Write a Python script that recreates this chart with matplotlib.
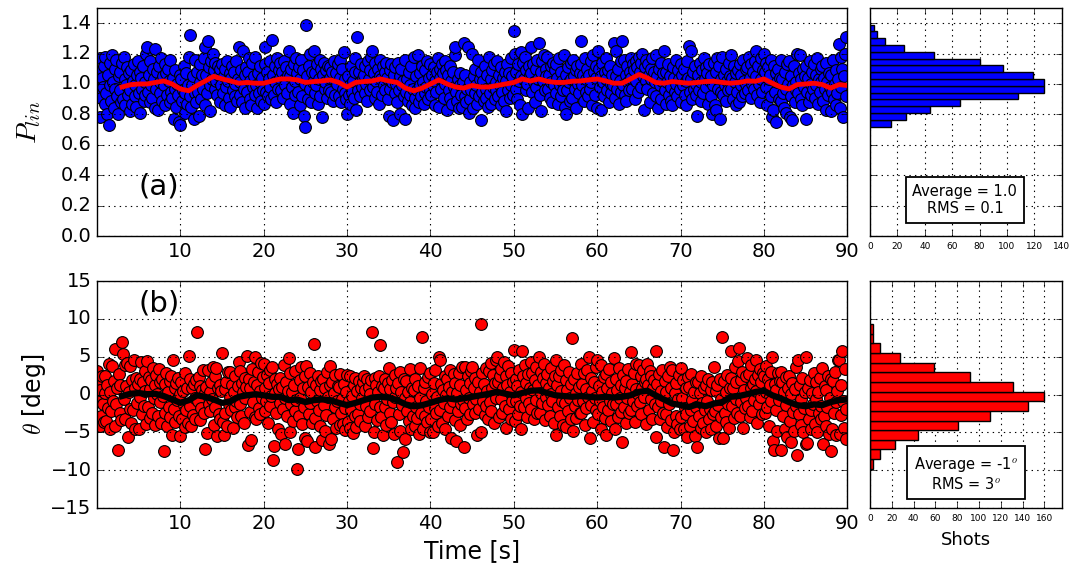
import numpy as np
import matplotlib
matplotlib.use('Agg')
import matplotlib.pyplot as plt
from matplotlib.ticker import FormatStrFormatter

plt.style.use('classic')

rate = 10.0  # shots per second

# linear polarisation per shot, one row per second
p_lin = [
    1.08, 0.95, 1.02, 0.78, 1.17, 0.91, 1.04, 0.98, 1.12, 0.87,
    1.18, 0.94, 0.80, 1.06, 0.73, 1.14, 0.99, 0.89, 1.19, 1.01,
    0.84, 1.10, 0.97, 1.16, 0.92, 0.80, 1.05, 1.08, 0.96, 0.88,
    1.14, 0.90, 1.18, 1.03, 0.86, 0.99, 1.11, 0.93, 1.07, 0.82,
    0.96, 1.09, 0.87, 1.02, 1.13, 0.92, 0.99, 0.85, 1.06, 1.15,
    0.94, 1.08, 0.81, 1.04, 0.97, 1.12, 0.89, 1.01, 0.93, 1.20,
    1.24, 0.95, 1.06, 0.88, 1.15, 0.99, 0.91, 1.10, 1.03, 0.84,
    1.23, 0.97, 1.08, 0.83, 1.12, 0.94, 1.01, 1.17, 0.89, 1.05,
    0.99, 1.13, 0.86, 1.07, 0.93, 1.10, 1.02, 0.88, 1.16, 0.95,
    0.91, 1.04, 0.77, 0.97, 1.09, 0.85, 1.00, 0.93, 0.75, 1.06,
    0.73, 1.03, 0.89, 0.96, 1.12, 0.81, 0.94, 1.07, 0.87, 0.99,
    1.18, 0.92, 1.32, 0.85, 0.99, 1.05, 0.77, 0.94, 1.16, 0.88,
    1.08, 0.95, 0.79, 1.13, 1.01, 0.90, 1.06, 0.97, 1.17, 0.86,
    1.24, 1.06, 0.94, 1.28, 1.11, 0.99, 0.82, 1.15, 1.03, 1.20,
    1.09, 0.97, 1.14, 1.02, 0.93, 1.12, 1.06, 0.88, 1.10, 0.99,
    1.13, 0.94, 1.05, 0.86, 1.10, 0.98, 1.15, 1.02, 0.91, 1.07,
    0.85, 1.04, 1.12, 0.96, 1.08, 0.92, 1.00, 1.15, 0.89, 1.03,
    1.24, 1.01, 0.93, 1.09, 0.88, 1.22, 0.97, 1.06, 0.84, 1.11,
    0.95, 1.08, 1.17, 0.90, 1.02, 0.86, 1.14, 0.98, 1.05, 0.93,
    1.18, 0.99, 0.84, 1.07, 0.94, 1.12, 1.01, 0.89, 1.04, 0.96,
    0.87, 1.13, 1.24, 0.95, 1.08, 0.92, 1.03, 1.15, 0.98, 0.90,
    1.29, 1.06, 0.93, 1.12, 1.01, 0.88, 1.17, 0.97, 1.09, 1.04,
    1.14, 0.96, 1.08, 0.91, 1.15, 1.03, 0.99, 1.11, 0.94, 1.06,
    1.22, 0.87, 1.05, 1.10, 0.98, 0.81, 1.13, 1.02, 0.93, 1.17,
    1.07, 0.95, 1.11, 0.86, 1.03, 1.16, 0.92, 1.09, 0.79, 1.00,
    0.72, 1.39, 1.05, 0.90, 1.12, 0.97, 1.20, 0.88, 1.08, 1.01,
    1.22, 0.94, 1.07, 0.99, 1.13, 0.87, 1.03, 1.16, 0.92, 1.10,
    0.78, 1.06, 1.14, 0.97, 1.01, 1.09, 0.91, 1.12, 0.96, 1.04,
    1.11, 0.95, 1.08, 0.89, 1.15, 1.02, 0.93, 1.07, 1.00, 1.13,
    0.92, 1.16, 1.04, 0.88, 1.10, 0.97, 1.21, 0.94, 1.03, 0.90,
    0.80, 1.05, 0.93, 0.99, 0.87, 1.12, 0.95, 1.02, 0.91, 1.08,
    1.17, 0.83, 1.31, 0.96, 1.08, 1.01, 0.92, 1.13, 0.98, 1.04,
    1.06, 0.94, 1.12, 1.00, 0.89, 1.15, 1.03, 0.96, 1.09, 1.18,
    1.22, 0.98, 1.07, 0.91, 1.14, 1.02, 0.95, 1.10, 0.87, 1.05,
    1.16, 1.03, 0.93, 1.12, 0.99, 1.08, 0.96, 1.14, 1.04, 0.90,
    0.79, 1.09, 0.97, 1.13, 1.01, 0.76, 1.06, 0.94, 1.11, 1.00,
    0.88, 1.14, 0.96, 1.05, 0.80, 1.10, 0.99, 1.02, 0.92, 1.16,
    0.77, 0.95, 1.03, 0.89, 1.08, 0.93, 0.99, 1.12, 0.86, 0.97,
    1.18, 0.91, 0.84, 1.05, 0.96, 1.19, 0.88, 0.99, 1.07, 0.92,
    1.12, 1.01, 0.87, 1.09, 0.94, 0.98, 1.15, 0.90, 1.04, 0.96,
    1.13, 0.93, 1.06, 0.99, 1.11, 0.86, 1.02, 0.95, 1.08, 1.17,
    0.85, 1.10, 1.04, 0.97, 1.13, 1.07, 0.91, 1.15, 1.00, 1.09,
    0.83, 1.06, 0.96, 1.12, 0.91, 1.02, 0.87, 1.08, 0.98, 1.19,
    1.24, 0.95, 0.89, 1.03, 0.84, 0.99, 1.07, 0.93, 0.85, 1.01,
    1.27, 0.92, 1.06, 0.88, 0.97, 1.24, 0.81, 1.01, 0.90, 0.96,
    1.20, 0.84, 1.05, 0.94, 1.10, 0.99, 0.87, 1.16, 0.92, 1.03,
    0.76, 1.08, 0.95, 1.02, 0.89, 1.12, 0.97, 0.91, 1.06, 0.85,
    1.18, 0.94, 1.03, 0.87, 1.09, 0.98, 1.13, 0.90, 1.01, 0.96,
    1.15, 0.92, 1.06, 0.99, 0.86, 1.11, 0.95, 1.04, 0.89, 1.08,
    0.82, 1.02, 1.13, 0.96, 1.07, 0.91, 1.17, 0.99, 1.05, 0.93,
    1.35, 1.20, 0.97, 1.08, 0.90, 1.13, 1.02, 0.86, 1.05, 1.21,
    0.80, 1.14, 1.03, 1.18, 0.96, 1.09, 1.00, 0.84, 1.12, 1.06,
    1.07, 1.24, 0.95, 1.13, 1.01, 0.88, 1.10, 0.98, 1.16, 1.03,
    1.27, 0.93, 1.08, 0.82, 1.15, 1.02, 1.19, 0.96, 1.10, 1.05,
    1.18, 0.97, 1.06, 0.91, 1.12, 1.01, 0.88, 1.14, 0.99, 1.09,
    1.13, 0.94, 1.04, 0.87, 1.17, 0.99, 1.08, 0.92, 1.02, 0.96,
    1.19, 0.85, 0.80, 1.06, 0.96, 1.11, 1.01, 0.89, 1.14, 1.03,
    0.91, 1.16, 1.05, 0.97, 1.09, 0.84, 1.12, 1.00, 0.94, 1.07,
    1.28, 1.13, 0.99, 1.06, 0.89, 1.17, 1.03, 0.95, 1.10, 0.92,
    1.06, 0.97, 1.15, 1.01, 0.86, 1.19, 1.08, 0.93, 1.12, 1.04,
    0.84, 1.22, 1.10, 0.98, 1.05, 0.83, 1.14, 1.01, 0.92, 1.08,
    1.17, 1.03, 0.96, 1.09, 0.88, 1.12, 1.00, 0.94, 1.06, 0.99,
    1.27, 0.91, 1.05, 1.22, 0.97, 1.10, 0.87, 1.02, 0.95, 1.15,
    1.28, 0.99, 1.16, 0.93, 1.06, 0.89, 1.12, 1.01, 0.96, 1.08,
    1.17, 1.04, 0.97, 1.13, 1.09, 0.90, 1.15, 1.02, 1.11, 0.95,
    1.18, 1.08, 1.14, 0.98, 1.20, 1.05, 0.83, 1.11, 1.02, 1.16,
    0.97, 1.13, 1.06, 0.88, 1.10, 1.03, 1.17, 0.94, 1.08, 1.01,
    1.19, 0.92, 1.05, 0.84, 1.10, 0.99, 1.14, 0.90, 1.02, 1.07,
    1.22, 0.96, 1.08, 0.87, 1.01, 1.13, 0.93, 1.05, 0.98, 0.89,
    0.86, 1.11, 1.04, 0.95, 1.16, 1.00, 0.92, 1.09, 1.03, 0.97,
    1.13, 0.88, 1.06, 0.99, 1.10, 0.93, 1.02, 0.86, 1.15, 1.04,
    1.25, 0.95, 1.22, 1.03, 0.90, 1.08, 0.97, 1.12, 1.00, 0.93,
    0.79, 1.06, 0.96, 1.14, 1.01, 0.89, 1.09, 0.94, 1.17, 1.03,
    1.11, 0.98, 1.07, 0.87, 1.13, 1.02, 0.92, 1.05, 0.80, 0.99,
    1.14, 0.86, 1.08, 0.83, 1.17, 0.97, 1.12, 0.77, 1.03, 0.95,
    1.18, 0.93, 1.06, 0.99, 1.10, 0.89, 1.02, 0.96, 1.14, 1.05,
    1.19, 0.97, 1.04, 0.90, 1.12, 1.01, 0.86, 1.07, 0.95, 1.09,
    0.88, 1.13, 0.99, 1.06, 0.92, 1.16, 1.02, 0.94, 1.10, 1.00,
    1.11, 0.96, 1.18, 1.04, 0.91, 1.13, 1.00, 1.08, 0.97, 1.15,
    1.22, 1.05, 0.93, 1.12, 1.00, 0.88, 1.17, 1.03, 0.95, 1.09,
    1.20, 1.08, 0.98, 1.14, 0.86, 1.11, 1.03, 1.06, 0.92, 1.16,
    0.78, 0.83, 1.12, 0.95, 1.07, 0.75, 1.01, 1.10, 0.90, 1.04,
    1.16, 0.89, 1.03, 0.94, 0.84, 1.08, 0.97, 0.81, 1.13, 1.00,
    1.15, 0.78, 0.92, 1.05, 0.76, 0.99, 1.12, 0.88, 0.96, 1.01,
    1.20, 0.94, 1.07, 1.19, 0.90, 1.03, 0.86, 1.10, 0.98, 1.05,
    0.77, 1.12, 0.95, 1.04, 0.88, 1.15, 1.00, 0.93, 1.08, 0.97,
    1.13, 0.91, 1.06, 0.99, 1.17, 0.87, 1.03, 0.95, 1.10, 1.01,
    1.12, 0.89, 1.04, 0.97, 1.14, 0.83, 1.01, 0.93, 1.07, 0.98,
    0.82, 1.06, 0.95, 1.16, 0.90, 1.00, 0.86, 1.09, 0.94, 1.03,
    1.26, 0.84, 1.18, 0.98, 1.10, 0.78, 1.05, 1.20, 0.92, 1.31,
]

# polarisation angle per shot [deg], one row per second
theta = [
    3.1, -0.8, 1.5, -4.2, 0.6, -2.9, 2.4, -1.3, -3.6, 0.2,
    2.4, -3.5, 1.2, -1.8, 4.1, -4.6, 0.3, -2.2, 3.8, -0.9,
    1.8, -4.1, 6.0, -1.2, 0.9, -7.3, 2.7, -2.5, 1.3, -3.4,
    7.0, 5.3, -0.6, 3.9, -3.3, 1.1, 4.2, -5.6, 0.4, -1.9,
    3.8, -3.8, 1.9, -2.0, 4.5, 0.8, -4.5, 2.2, -1.1, 1.4,
    -4.6, 2.0, -0.3, 4.3, -2.6, 1.6, -1.5, 3.1, 0.5, -3.9,
    4.4, -1.7, 2.3, -3.1, 0.7, 1.9, -2.4, 3.5, -0.5, 1.2,
    -4.0, 2.6, 0.1, -2.8, 3.4, -1.0, 1.7, -3.7, 2.1, -0.2,
    -7.5, 1.4, -2.5, 2.9, -4.2, 0.3, -1.6, 1.8, -3.0, 2.5,
    -5.3, 4.5, -1.9, 0.8, -3.6, 1.5, -0.7, 2.2, -2.9, 0.1,
    -5.5, 1.7, -3.2, 0.5, -1.4, -4.3, 2.9, -2.1, 0.9, -3.8,
    5.1, -1.5, 2.0, -4.1, 0.8, -2.7, 1.4, -0.4, -3.3, 1.9,
    8.2, -0.9, 2.3, -3.4, 1.1, -1.8, 0.6, 3.2, -2.5, 0.2,
    -7.2, 1.0, -5.1, 3.3, -1.3, 0.4, -2.2, 1.7, -0.6, 3.6,
    -4.0, 2.4, -1.7, 3.5, -5.5, 0.9, -2.6, 1.3, -3.3, 0.5,
    5.5, -3.6, -5.3, 0.7, -2.4, 1.6, -4.2, 3.0, -1.2, -0.3,
    3.0, -2.0, 1.3, -4.4, 0.4, -1.6, 2.5, -0.8, -3.0, 1.1,
    4.3, -1.2, 3.1, -2.9, 1.5, 0.3, -3.8, 2.2, -0.5, 1.0,
    5.1, -6.7, 2.0, -2.3, 0.9, -6.0, 3.4, -1.0, 1.7, -3.0,
    5.0, -3.2, 1.2, 3.0, -1.8, 0.5, -2.6, 4.2, -0.4, 2.3,
    4.0, -2.2, 0.8, -0.9, 2.6, -3.7, 1.5, -1.5, 3.3, -0.2,
    3.6, -8.6, -6.8, 0.2, 2.1, -2.5, 1.4, -4.6, 0.7, -1.1,
    2.2, -5.2, 1.0, -1.9, 3.9, -0.4, -6.6, 1.7, -2.8, 0.5,
    4.8, -5.0, 2.8, -1.3, 0.3, -3.5, 1.2, -2.2, 3.1, -0.7,
    -9.8, -7.2, -2.8, 1.9, -0.5, 3.7, -3.9, 0.8, -1.6, 2.4,
    -5.7, 3.8, -6.1, 1.0, -2.6, 2.9, -1.1, 0.4, -3.7, 1.6,
    6.7, -3.1, -7.0, 1.3, -0.9, 2.4, -2.0, 0.6, -4.2, 1.8,
    -6.0, 2.0, -1.4, -4.8, 0.9, -2.7, 3.0, -0.3, -6.6, 1.2,
    3.8, -5.9, 1.6, -3.2, 0.2, -1.7, 2.6, -4.4, -0.8, 1.1,
    1.0, -4.0, 2.7, -2.4, -0.6, -3.9, 1.4, -1.8, -4.7, 0.3,
    2.6, -3.6, -0.9, -4.4, 2.4, -2.0, -0.2, -5.1, 1.2, -2.8,
    2.2, -4.3, 0.5, -2.6, 1.8, -1.2, -3.5, 0.9, -0.4, 1.6,
    2.5, -4.2, 0.6, -1.5, 2.1, -3.0, 1.0, -2.2, 0.1, 1.9,
    8.3, -7.1, -5.0, 2.2, -1.2, 1.3, -3.4, 0.4, 2.5, -1.7,
    6.5, -3.0, 1.1, -5.4, 0.8, -1.6, 2.0, -4.0, -0.6, 1.5,
    3.5, -2.4, 0.7, -3.6, 1.9, -1.0, -5.2, 2.6, -0.3, 0.9,
    -8.9, 1.5, -2.6, 3.0, -4.8, 0.4, -1.4, -7.6, 2.0, -0.5,
    -5.9, 1.8, -2.2, 0.3, -3.5, 3.4, -1.0, -4.6, 0.8, -2.8,
    0.6, -4.2, 2.0, -1.7, -3.1, 1.1, -5.2, -0.5, 3.5, -2.5,
    7.6, -4.5, 0.9, -2.9, 1.7, -0.9, -3.6, 2.3, -1.6, -5.0,
    2.8, -3.2, 0.1, -4.9, 1.5, -1.8, 3.3, -2.4, -0.3, -4.1,
    4.9, 4.6, -2.0, 1.4, -3.7, 0.6, -1.1, 2.5, -4.6, 0.0,
    2.1, -2.8, 1.0, -1.6, 3.2, -5.7, 0.4, -0.9, 2.7, -3.4,
    1.5, -6.2, 0.2, -2.2, 2.8, -4.0, 1.2, -1.3, 3.6, -0.7,
    -7.0, 3.7, -1.8, 0.6, -3.2, 2.4, -0.4, 1.5, -2.6, 3.1,
    3.6, -1.3, 0.9, -2.4, 2.2, -0.6, -5.4, 1.6, -1.9, 0.3,
    9.3, -5.0, 2.9, -0.8, 1.4, -2.7, 3.5, -1.5, 0.5, -3.3,
    3.1, -1.0, 4.2, -2.2, 0.8, 2.6, -3.7, 1.5, -0.5, 4.6,
    5.0, 1.7, -3.0, 2.5, -0.6, 3.4, -2.4, 0.9, 4.3, -1.5,
    2.4, -4.4, 1.2, 3.8, -1.9, 0.4, -3.2, 2.9, -0.9, 1.6,
    5.9, -3.5, 2.0, -0.8, 1.1, -2.6, 3.2, -1.5, 0.3, -4.5,
    5.8, 2.4, -1.6, 3.9, -0.4, 1.5, -3.0, 2.7, -1.1, 0.8,
    4.3, -1.9, 2.8, 0.6, -3.3, 1.9, -0.7, 3.6, -2.4, 1.2,
    5.0, -2.5, 3.0, 0.2, -1.1, 2.2, 4.1, -3.4, 1.5, -0.3,
    2.7, -1.4, 0.9, -2.8, 3.5, 0.1, -0.9, 1.8, -3.7, 2.4,
    4.6, -5.3, 1.3, -1.7, 2.5, -2.9, 0.5, 3.2, -0.8, -4.0,
    3.9, -1.1, 1.9, -4.3, 0.6, -2.2, 3.0, -0.4, 1.4, -3.3,
    7.5, -4.8, 2.1, -1.5, 0.2, -3.1, 2.8, -0.7, 1.0, -2.4,
    4.0, -2.5, 1.4, -0.9, 2.9, -4.0, 0.7, -1.8, 3.3, -0.3,
    5.0, -5.7, 2.2, -1.4, 0.5, -3.6, 1.6, -0.5, 3.7, -2.0,
    4.6, -2.6, 1.1, -0.8, 3.9, -4.6, 0.4, -1.7, 2.3, -3.1,
    2.7, -5.4, 0.8, -2.0, 3.4, -0.9, 1.6, -3.5, 0.2, -1.3,
    4.8, -4.6, 2.0, -1.2, 0.6, -3.0, 3.5, -0.5, 1.3, -2.3,
    -6.3, 2.6, -1.6, 0.9, -3.8, 1.8, -0.4, 3.4, -2.5, 0.3,
    5.6, -2.1, 1.4, -0.8, 2.8, -3.6, 0.7, 4.0, -1.5, 0.1,
    3.9, -1.0, 2.5, -2.6, 0.9, 3.3, -0.3, 1.7, -3.9, 2.0,
    4.0, 1.2, -2.1, 3.1, -0.6, 2.4, -3.3, 0.8, 1.9, -1.3,
    5.7, -5.6, 1.4, -1.7, 2.7, -3.2, 0.5, -0.8, 3.3, -2.4,
    -6.9, 1.8, -2.6, 0.4, -4.3, 2.5, -1.2, 3.6, -3.4, 0.9,
    3.3, -7.3, -5.0, 0.2, -2.8, 1.5, -3.9, -0.6, 2.6, -4.6,
    3.5, -3.0, -0.5, 1.9, -4.5, -1.8, 0.8, -2.6, -5.6, 2.3,
    1.0, -4.2, -2.1, 2.7, -0.7, -3.5, 0.4, -5.5, -1.6, 1.6,
    -6.9, 1.6, -2.9, 0.2, -4.4, 2.4, -1.1, -3.7, 0.9, -2.0,
    1.2, -5.0, -0.9, 2.0, -3.3, -1.9, 0.6, -4.5, 1.7, -2.6,
    3.6, -2.2, 0.5, -4.1, 1.3, -1.4, -5.8, 2.1, -0.6, -3.0,
    7.6, -5.7, 1.8, -2.5, 0.3, -3.6, 2.6, -1.2, -4.4, 0.9,
    5.8, 2.2, -1.5, 0.8, -3.1, 3.7, -0.6, 1.6, -2.4, 4.4,
    6.2, -2.9, 1.9, -1.0, 3.0, -4.4, 0.6, -1.8, 2.4, -0.4,
    4.8, -1.5, 2.7, -3.0, 0.9, 3.9, -2.2, 1.4, -0.7, 2.1,
    4.5, 0.5, -3.7, 2.6, -1.2, 3.4, -0.3, 1.7, -2.6, 2.9,
    2.5, -2.5, 3.8, 0.3, -1.6, 2.1, -4.2, 1.2, 3.0, -0.8,
    5.0, -6.1, -7.3, 1.4, -2.0, 0.6, -4.8, 2.9, -0.7, 1.8,
    3.0, -7.3, 1.7, -2.8, 0.4, -4.5, 2.3, -1.4, -5.6, 0.8,
    2.4, -3.5, 0.1, -6.3, 1.5, -2.3, -4.8, 0.7, -1.5, 3.6,
    -8.0, 4.6, -2.6, 1.3, -4.0, -0.6, 2.2, -5.0, -1.8, 0.4,
    4.9, -6.5, -6.4, 0.8, -3.2, 1.9, -2.1, -4.6, 0.2, -1.2,
    2.9, -3.9, -0.6, 1.7, -4.9, 0.3, -2.4, 2.2, -1.5, -3.3,
    3.5, -6.5, -2.8, 1.1, -4.1, 0.6, -1.7, 2.4, -5.2, -0.4,
    2.0, -7.5, -4.5, 1.8, -2.5, 3.0, -1.0, -5.3, 0.5, 4.5,
    4.6, -5.2, 1.3, -2.7, 5.7, -0.8, -4.4, 3.4, -1.9, -5.9,
]

# running averages, one value per second from t = 3 s
p_avg = [
    0.98, 0.995, 1.0, 1.0, 1.01, 1.02, 1.0, 0.967, 0.955, 0.99,
    1.02, 1.05, 1.033, 1.02, 1.005, 1.01, 1.005, 1.005, 1.02, 1.033,
    1.033, 1.027, 1.01, 1.016, 1.02, 1.027, 1.01, 0.98, 1.01, 1.016,
    1.02, 1.033, 1.02, 1.01, 0.973, 0.955, 0.973, 1.0, 1.027, 1.0,
    0.98, 0.973, 0.99, 0.98, 0.98, 0.99, 1.0, 1.01, 1.033, 1.02,
    1.033, 1.018, 1.01, 1.01, 1.018, 1.02, 1.027, 1.033, 1.02, 1.005,
    1.005, 1.033, 1.062, 1.04, 1.01, 1.005, 1.016, 1.01, 1.005, 1.01,
    1.016, 1.018, 1.01, 1.005, 1.01, 1.02, 1.018, 1.033, 1.005, 0.98,
    0.967, 0.996, 1.0, 1.005, 0.996, 0.973, 0.996, 0.99,
]
theta_avg = [
    -0.2, 0.1, 0.2, 0.05, 0.1, -0.2, -0.65, -1.1, -0.75, -0.1,
    -0.3, -0.65, -1.1, -0.9, -0.3, -0.1, 0.05, -0.1, -0.3, -0.3,
    -0.75, -0.65, -1.0, -0.75, -0.65, -0.75, -1.1, -1.4, -1.1, -0.75,
    -0.4, -0.3, -0.4, -0.75, -1.3, -1.55, -1.4, -1.1, -0.75, -0.5,
    -0.65, -0.5, -0.3, -0.1, 0.1, 0.35, 0.1, -0.1, 0.2, 0.5,
    0.55, 0.2, -0.1, -0.2, -0.3, -0.2, -0.3, -0.4, -0.3, -0.4,
    -0.3, -0.1, 0.35, 0.5, -0.1, -0.65, -1.2, -1.4, -1.65, -1.3,
    -1.55, -1.2, -1.0, -0.3, -0.2, 0.05, 0.35, 0.5, -0.1, -0.5,
    -1.0, -1.4, -1.55, -1.3, -1.4, -1.0, -0.75, -0.65,
]

# histogram counts (shots per bin, from lowest bin upward)
p_counts = [15, 26, 44, 66, 108, 127, 127, 119, 97, 80, 47, 25, 11, 5, 3]
theta_counts = [3, 9, 23, 44, 81, 110, 145, 160, 131, 92, 59, 28, 9, 3, 3]

p_lin = np.array(p_lin)
theta = np.array(theta)
t = np.arange(len(p_lin)) / rate
t_avg = np.arange(3, 3 + len(p_avg))

p_edges = np.linspace(p_lin.min(), p_lin.max(), len(p_counts) + 1)
theta_edges = np.linspace(theta.min(), theta.max(), len(theta_counts) + 1)

fig = plt.figure(figsize=(10.78, 5.68), dpi=100, facecolor='white')

L, W = 0.090, 0.696
HL, HW = 0.807, 0.178
ax1 = fig.add_axes([L, 0.5845, W, 0.4015])
ax2 = fig.add_axes([L, 0.1056, W, 0.3996])
h1 = fig.add_axes([HL, 0.5845, HW, 0.4015])
h2 = fig.add_axes([HL, 0.1056, HW, 0.3996])

# --- (a) polarisation
ax1.scatter(t, p_lin, s=72, c='b', edgecolors='k', linewidths=0.8, zorder=2)
ax1.plot(t_avg, p_avg, color='r', lw=3.5, zorder=3)
ax1.set_xlim(0, 90)
ax1.set_ylim(0, 1.5)
ax1.set_xticks(range(10, 91, 10))
ax1.set_yticks(np.arange(0, 1.41, 0.2))
ax1.yaxis.set_major_formatter(FormatStrFormatter('%.1f'))
ax1.set_ylabel(r'$P_{lin}$', fontsize=20)
ax1.yaxis.set_label_coords(-0.072, 0.5)
ax1.text(0.083, 0.215, '(a)', transform=ax1.transAxes, fontsize=21,
         ha='center', va='center')

# --- (b) angle
ax2.scatter(t, theta, s=72, c='r', edgecolors='k', linewidths=0.8, zorder=2)
ax2.plot(t_avg, theta_avg, color='k', lw=4.5, zorder=3)
ax2.set_xlim(0, 90)
ax2.set_ylim(-15, 15)
ax2.set_xticks(range(10, 91, 10))
ax2.set_yticks(range(-15, 16, 5))
ax2.set_ylabel(r'$\theta$ [deg]', fontsize=17)
ax2.yaxis.set_label_coords(-0.066, 0.5)
ax2.set_xlabel('Time [s]', fontsize=17)
ax2.xaxis.set_label_coords(0.5, -0.135)
ax2.text(0.083, 0.903, '(b)', transform=ax2.transAxes, fontsize=21,
         ha='center', va='center')

for ax in (ax1, ax2):
    ax.tick_params(labelsize=14)
    ax.grid(True, color='k', linestyle=':', linewidth=0.8)

# --- histograms
h1.barh(p_edges[:-1], p_counts, height=np.diff(p_edges), align='edge',
        color='b', edgecolor='k', linewidth=1)
h1.set_ylim(ax1.get_ylim())
h1.set_yticks(ax1.get_yticks())
h1.set_xlim(0, 140)
h1.set_xticks(range(0, 141, 20))

h2.barh(theta_edges[:-1], theta_counts, height=np.diff(theta_edges),
        align='edge', color='r', edgecolor='k', linewidth=1)
h2.set_ylim(ax2.get_ylim())
h2.set_yticks(ax2.get_yticks())
h2.set_xlim(0, 176)
h2.set_xticks(range(0, 161, 20))
h2.set_xlabel('Shots', fontsize=13)
h2.xaxis.set_label_coords(0.5, -0.1)

for h in (h1, h2):
    h.set_yticklabels([])
    h.tick_params(labelsize=6.5)
    h.grid(True, color='k', linestyle=':', linewidth=0.8)
    h.set_axisbelow(True)

box = dict(boxstyle='square,pad=0.45', facecolor='white', edgecolor='k',
           linewidth=1.3)
h1.text(0.495, 0.158, 'Average = 1.0\nRMS = 0.1', transform=h1.transAxes,
        fontsize=10.5, ha='center', va='center', multialignment='center',
        bbox=box)
h2.text(0.5, 0.152, 'Average = -1$^o$\nRMS = 3$^o$', transform=h2.transAxes,
        fontsize=10.5, ha='center', va='center', multialignment='center',
        bbox=box)

fig.savefig('out.png', dpi=100, facecolor='white')
